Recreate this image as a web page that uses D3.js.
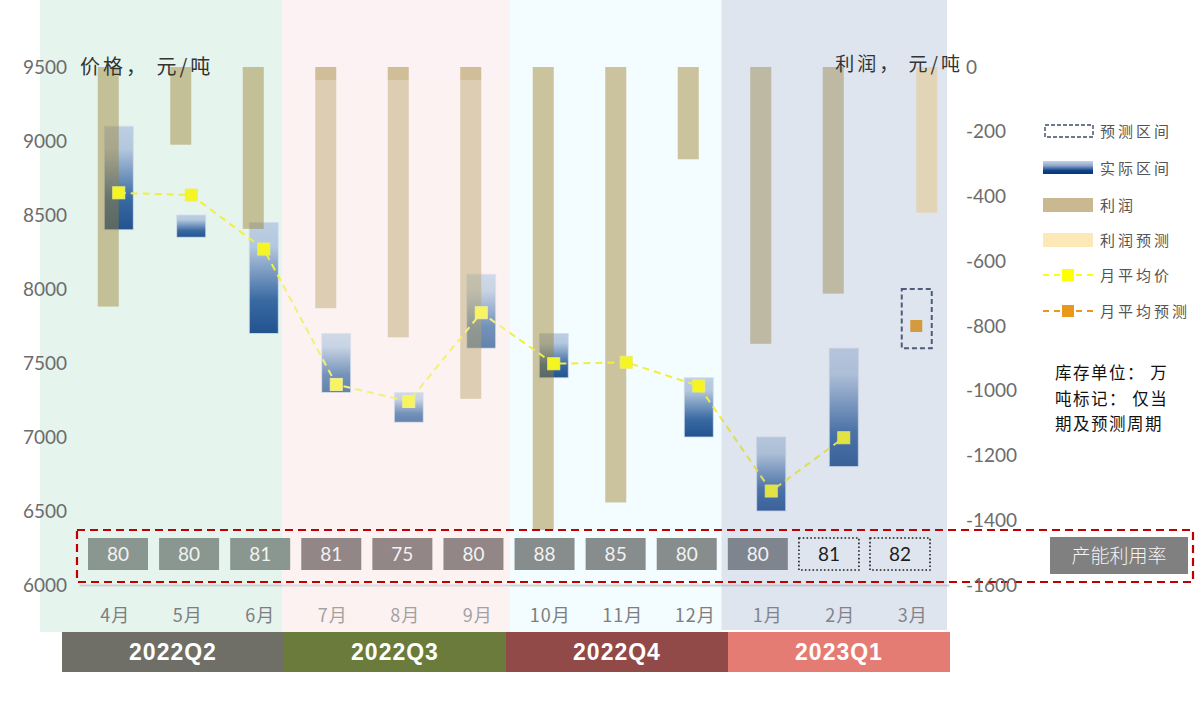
<!DOCTYPE html>
<html><head><meta charset="utf-8">
<script src="https://cdn.jsdelivr.net/npm/d3@7"></script>
<style>body{margin:0;background:#fff;} svg{display:block;}</style>
</head><body><svg id="c" width="1198" height="710"></svg>
<script>
// ---------------- data ----------------
const months = ["4月","5月","6月","7月","8月","9月","10月","11月","12月","1月","2月","3月"];
const quarters = ["2022Q2","2022Q3","2022Q4","2023Q1"];
const profit = [-740,-240,-500,-745,-835,-1025,-1430,-1345,-285,-855,-700,null];
const profitForecast = [null,null,null,null,null,null,null,null,null,null,null,-450];
const priceLow  = [8400,8350,7700,7300,7100,7600,7400,null,7000,6500,6800,null];
const priceHigh = [9100,8500,8450,7700,7300,8100,7700,null,7400,7000,7600,null];
const priceAvg  = [8650,8635,8270,7355,7240,7840,7495,7505,7345,6635,6995,null];
const forecastLow  = [null,null,null,null,null,null,null,null,null,null,null,7600];
const forecastHigh = [null,null,null,null,null,null,null,null,null,null,null,8000];
const forecastAvg  = [null,null,null,null,null,null,null,null,null,null,null,7750];
const capacity = [80,80,81,81,75,80,88,85,80,80,81,82];
const capacityIsForecast = [false,false,false,false,false,false,false,false,false,false,true,true];
const leftTicks = [6000,6500,7000,7500,8000,8500,9000,9500];
const rightTicks = [0,-200,-400,-600,-800,-1000,-1200,-1400,-1600];
const legendLabels = ["预测区间","实际区间","利润","利润预测","月平均价","月平均预测"];
const leftTitle = "价格， 元/吨";
const rightTitle = "利润， 元/吨";
const noteLines = ["库存单位： 万","吨标记： 仅当","期及预测周期"];
const capacityLabel = "产能利用率";

// ---------------- style ----------------
const panelColors = ["#e6f4ee","#fdf2f3","#f3fcfe","#f1f8fb"];
const panelShift = [-39,-14,-4,-10];
const quarterColors = ["#6f6f68","#6a7b3c","#924a49","#e57c73"];
const boxColors = ["#8a9690","#928686","#878d8d","#7f858e"];
const profitColor = "#9b802d", profitOpacity = 0.46;
const profitForecastColor = "#fbcd65";
const yellow = "#f5f522", orange = "#e39a20";
const cjk = "'Noto Sans CJK SC','Noto Sans',sans-serif";
const latin = "Lato,'Open Sans',sans-serif";

const svg = d3.select("#c");
const defs = svg.append("defs");

const x = d3.scaleBand().domain(months).range([79, 949]);
const cx = m => x(m) + x.bandwidth() / 2;
const yL = d3.scaleLinear().domain([6000, 9500]).range([585, 67]);
const yR = d3.scaleLinear().domain([-1600, 0]).range([585, 67]);
const xq = d3.scaleBand().domain(quarters).range([62, 950]);
const xc = d3.scalePoint().domain(months).range([118, 900]);

// gradients
const g1 = defs.append("linearGradient").attr("id","priceGrad").attr("x1",0).attr("y1",0).attr("x2",0).attr("y2",1);
[[0,"#bccfe3"],[0.22,"#b3c7de"],[0.7,"#3a6aa2"],[1,"#23538f"]].forEach(s=>g1.append("stop").attr("offset",s[0]).attr("stop-color",s[1]));
const g2 = defs.append("linearGradient").attr("id","legGrad").attr("x1",0).attr("y1",0).attr("x2",0).attr("y2",1);
[[0,"#c4d2e8"],[0.35,"#8ea8cc"],[0.75,"#0e3f84"],[1,"#003a80"]].forEach(s=>g2.append("stop").attr("offset",s[0]).attr("stop-color",s[1]));

// ---------------- background panels ----------------
const panelEdges = quarters.map((q,i)=> x(months[i*3]) + panelShift[i]);
panelEdges.push(x.range()[1] - 2);
svg.append("g").selectAll("rect").data(quarters).join("rect")
  .attr("x",(d,i)=>panelEdges[i]).attr("y",0)
  .attr("width",(d,i)=>panelEdges[i+1]-panelEdges[i])
  .attr("height",(d,i)=> i===3 ? 630 : 632)
  .attr("fill",(d,i)=>panelColors[i]);

// quarter label bars
const qg = svg.append("g");
qg.selectAll("rect").data(quarters).join("rect")
  .attr("x",d=>xq(d)).attr("y",632).attr("width",xq.bandwidth()).attr("height",40)
  .attr("fill",(d,i)=>quarterColors[i]);
qg.selectAll("text").data(quarters).join("text")
  .attr("x",d=>xq(d)+xq.bandwidth()/2).attr("y",660)
  .attr("text-anchor","middle").attr("fill","#fff")
  .style("font-family","'Liberation Sans',Arial,sans-serif").style("font-weight","bold")
  .style("font-size","23px").style("letter-spacing","1px").text(d=>d);

// bottom axis
const ax = svg.append("g").attr("transform","translate(0,585)")
  .call(d3.axisBottom(x).tickSize(0).tickSizeOuter(0).tickPadding(24));
ax.select(".domain").attr("stroke","#cdd3cf").attr("stroke-width",2);
ax.selectAll("text").attr("fill","#7e7e7e").style("font-family",cjk).style("font-size","18px").style("letter-spacing","1px");

// ---------------- price range bars ----------------
const idx = d3.range(months.length);
svg.append("g").selectAll("rect").data(idx.filter(i=>priceLow[i]!=null)).join("rect")
  .attr("x",i=>cx(months[i])+3.5-14.5).attr("width",29)
  .attr("y",i=>yL(priceHigh[i])).attr("height",i=>yL(priceLow[i])-yL(priceHigh[i]))
  .attr("fill","url(#priceGrad)").attr("stroke","#d2dceb").attr("stroke-width",0.8);

// forecast box
svg.append("g").selectAll("rect").data(idx.filter(i=>forecastLow[i]!=null)).join("rect")
  .attr("x",i=>cx(months[i])+4-15).attr("width",30)
  .attr("y",i=>yL(forecastHigh[i])).attr("height",i=>yL(forecastLow[i])-yL(forecastHigh[i]))
  .attr("fill","none").attr("stroke","#3c4c6c").attr("stroke-width",2).attr("stroke-dasharray","5,3");

// ---------------- profit bars ----------------
svg.append("g").selectAll("rect").data(idx.filter(i=>profit[i]!=null)).join("rect")
  .attr("x",i=>cx(months[i])-7-10.5).attr("width",21)
  .attr("y",yR(0)).attr("height",i=>yR(profit[i])-yR(0))
  .attr("fill",profitColor).attr("fill-opacity",profitOpacity);
svg.append("g").selectAll("rect").data(idx.filter(i=>profitForecast[i]!=null)).join("rect")
  .attr("x",i=>cx(months[i])+14-10.5).attr("width",21)
  .attr("y",yR(0)).attr("height",i=>yR(profitForecast[i])-yR(0))
  .attr("fill",profitForecastColor).attr("fill-opacity",profitOpacity);

// ---------------- average price line ----------------
const line = d3.line().defined(i=>priceAvg[i]!=null)
  .x(i=>cx(months[i])+3.5).y(i=>yL(priceAvg[i]));
svg.append("path").datum(idx).attr("d",line).attr("fill","none")
  .attr("stroke","#f2ee3c").attr("stroke-width",2).attr("stroke-dasharray","7,5");
svg.append("g").selectAll("rect").data(idx.filter(i=>priceAvg[i]!=null)).join("rect")
  .attr("x",i=>cx(months[i])+3.5-6).attr("y",i=>yL(priceAvg[i])-6)
  .attr("width",12).attr("height",12).attr("fill",yellow).attr("stroke","#ecec70").attr("stroke-width",1);
svg.append("g").selectAll("rect").data(idx.filter(i=>forecastAvg[i]!=null)).join("rect")
  .attr("x",i=>cx(months[i])+3.5-6).attr("y",i=>yL(forecastAvg[i])-6)
  .attr("width",12).attr("height",12).attr("fill",orange);

// ---------------- overlays ----------------
svg.append("rect").attr("x",panelEdges[1]).attr("y",80)
  .attr("width",panelEdges[2]-panelEdges[1]).attr("height",552)
  .attr("fill","#fdf2f3").attr("fill-opacity",0.3);
svg.append("rect").attr("x",panelEdges[3]).attr("y",0)
  .attr("width",panelEdges[4]-panelEdges[3]).attr("height",630)
  .attr("fill","#969bbe").attr("fill-opacity",0.2);

// ---------------- capacity boxes ----------------
const cg = svg.append("g");
cg.selectAll("rect").data(idx).join("rect")
  .attr("x",i=>xc(months[i])-30).attr("y",538).attr("width",60).attr("height",32)
  .attr("fill",i=>capacityIsForecast[i] ? "none" : boxColors[Math.floor(i/3)])
  .attr("stroke",i=>capacityIsForecast[i] ? "#1e1e1e" : "none")
  .attr("stroke-width",1.6).attr("stroke-dasharray","1.6,2.2");
cg.selectAll("text").data(idx).join("text")
  .attr("x",i=>xc(months[i])).attr("y",561).attr("text-anchor","middle")
  .attr("fill",i=>capacityIsForecast[i] ? "#1e1e1e" : "#f2f2f2")
  .style("font-family",latin).style("font-size","19px").text(i=>capacity[i]);

// red dashed frame
svg.append("rect").attr("x",77).attr("y",530).attr("width",1116).attr("height",52)
  .attr("fill","none").attr("stroke","#c00000").attr("stroke-width",2.2).attr("stroke-dasharray","8,5");
svg.append("rect").attr("x",1050).attr("y",537).attr("width",138).attr("height",37).attr("fill","#808080");
svg.append("text").attr("x",1119).attr("y",563).attr("text-anchor","middle").attr("fill","#f4f4f4")
  .style("font-family",cjk).style("font-weight","300").style("font-size","19px").text(capacityLabel);

// ---------------- axes text ----------------
const la = svg.append("g").attr("transform","translate(67,0)")
  .call(d3.axisLeft(yL).tickValues(leftTicks).tickSize(0).tickPadding(0).tickFormat(d=>String(d)));
la.select(".domain").remove();
la.selectAll("text").attr("fill","#6c6c6c").style("font-family",latin).style("font-size","19px");

const ra = svg.append("g").attr("transform","translate(966,0)")
  .call(d3.axisRight(yR).tickValues(rightTicks).tickSize(0).tickPadding(0).tickFormat(d=>String(d)));
ra.select(".domain").remove();
ra.selectAll("text").attr("fill","#6c6c6c").style("font-family",latin).style("font-size","19px");

// titles
svg.append("text").attr("x",80).attr("y",74).attr("fill","#333")
  .style("font-family",cjk).style("font-size","20px").style("letter-spacing","3px").text(leftTitle);
svg.append("text").attr("x",963).attr("y",71).attr("text-anchor","end").attr("fill","#333")
  .style("font-family",cjk).style("font-size","19px").style("letter-spacing","3px").text(rightTitle);

// ---------------- legend ----------------
const lg = svg.append("g");
const ly = [131,168,205,240,275,311];
lg.append("rect").attr("x",1045).attr("y",ly[0]-6).attr("width",48).attr("height",12)
  .attr("fill","none").attr("stroke","#3c4c6c").attr("stroke-width",1.4).attr("stroke-dasharray","4,2");
lg.append("rect").attr("x",1043).attr("y",ly[1]-7).attr("width",50).attr("height",13).attr("fill","url(#legGrad)");
lg.append("rect").attr("x",1043).attr("y",ly[2]-7).attr("width",50).attr("height",14).attr("fill","#c9b890");
lg.append("rect").attr("x",1043).attr("y",ly[3]-7).attr("width",50).attr("height",14).attr("fill","#fde8b8");
[[ly[4],"#ffff00"],[ly[5],"#e8981c"]].forEach(([yy,c])=>{
  lg.append("line").attr("x1",1043).attr("x2",1093).attr("y1",yy).attr("y2",yy)
    .attr("stroke",c).attr("stroke-width",2).attr("stroke-dasharray","6,5");
  lg.append("rect").attr("x",1062).attr("y",yy-6).attr("width",12).attr("height",12).attr("fill",c);
});
lg.selectAll("text").data(legendLabels).join("text")
  .attr("x",1100).attr("y",(d,i)=>ly[i]+5.5).attr("fill","#555")
  .style("font-family",cjk).style("font-size","15px").style("letter-spacing","3px").text(d=>d);

// note
svg.append("g").selectAll("text").data(noteLines).join("text")
  .attr("x",1055).attr("y",(d,i)=>379+i*25.5).attr("fill","#111")
  .style("font-family",cjk).style("font-size","16.5px").style("letter-spacing","1.5px").text(d=>d);
</script></body></html>
